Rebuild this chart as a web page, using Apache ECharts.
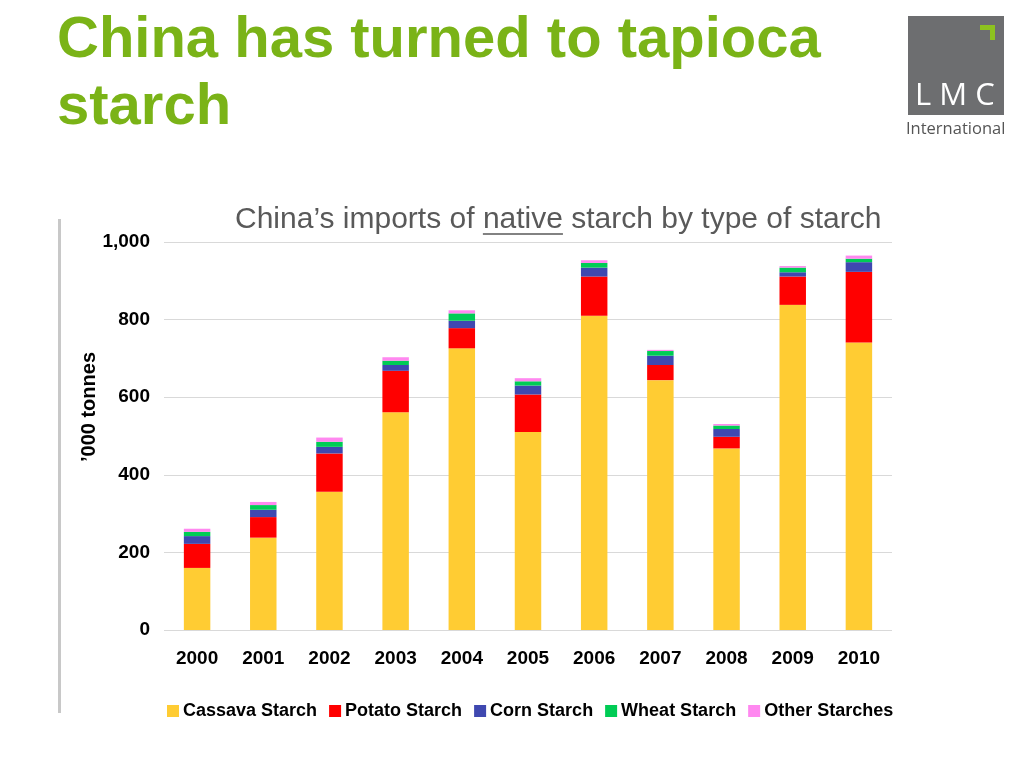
<!DOCTYPE html>
<html>
<head>
<meta charset="utf-8">
<title>China has turned to tapioca starch</title>
<script src="https://cdn.jsdelivr.net/npm/echarts@6/dist/echarts.min.js"></script>
<style>
    html, body { margin: 0; padding: 0; background: #fff; }
    #chart { width: 1024px; height: 768px; }
</style>
</head>
<body>
<div id="chart"></div>
<script>
    // data ('000 tonnes)
    var years = ['2000', '2001', '2002', '2003', '2004', '2005', '2006', '2007', '2008', '2009', '2010'];
    var cassava = [160, 238, 356, 561, 726, 510, 810, 644, 468, 838, 741];
    var potato = [62, 53, 99, 107, 52, 97, 101, 39, 30, 73, 182];
    var corn = [20, 19, 17, 15, 19, 23, 23, 24, 20, 11, 25];
    var wheat = [11, 12, 13, 11, 19, 11, 12, 12, 9, 12, 9];
    var other = [8, 8, 11, 9, 8, 8, 7, 3, 4, 4, 8];
    var yTicks = [0, 200, 400, 600, 800, 1000];

    var seriesNames = ['Cassava Starch', 'Potato Starch', 'Corn Starch', 'Wheat Starch', 'Other Starches'];
    var seriesData = [cassava, potato, corn, wheat, other];
    var colors = ['#FFCC33', '#FF0000', '#3F48B0', '#00CC55', '#FF88F0'];

    var sans = "'Liberation Sans', Arial, sans-serif";

    // subtitle, with "native" underlined
    var subPre = 'China\u2019s imports of ';
    var subWord = 'native';
    var subFont = '30px ' + sans;
    var subLeft = 235;
    var ctx = document.createElement('canvas').getContext('2d');
    ctx.font = subFont;
    var ulStart = subLeft + ctx.measureText(subPre).width;
    var ulEnd = ulStart + ctx.measureText(subWord).width;

    var chart = echarts.init(document.getElementById('chart'));

    var option = {
        animation: false,
        color: colors,
        title: {
            text: subPre + subWord + ' starch by type of starch',
            left: subLeft,
            top: 205,
            padding: 0,
            textStyle: {
                color: '#595959',
                fontSize: 30,
                fontWeight: 'normal',
                fontFamily: sans
            }
        },
        grid: {
            left: 164,
            right: 132,
            top: 242,
            bottom: 138
        },
        legend: {
            data: seriesNames,
            left: 162,
            top: 697,
            itemWidth: 12,
            itemHeight: 12,
            itemGap: 12,
            icon: 'rect',
            textStyle: {
                color: '#000',
                fontSize: 18,
                fontWeight: 'bold',
                fontFamily: sans,
                padding: [0, 0, 0, -1]
            }
        },
        xAxis: {
            type: 'category',
            data: years,
            axisLine: { show: false },
            axisTick: { show: false },
            axisLabel: {
                margin: 19,
                color: '#000',
                fontSize: 19,
                fontWeight: 'bold',
                fontFamily: sans
            }
        },
        yAxis: {
            type: 'value',
            min: yTicks[0],
            max: yTicks[yTicks.length - 1],
            interval: 200,
            axisLine: { show: false },
            axisTick: { show: false },
            splitLine: { lineStyle: { color: '#d9d9d9', width: 1 } },
            axisLabel: {
                margin: 14,
                color: '#000',
                fontSize: 19,
                fontWeight: 'bold',
                fontFamily: sans,
                formatter: function (v) {
                    return v.toLocaleString('en-US');
                }
            }
        },
        series: seriesNames.map(function (name, i) {
            return {
                name: name,
                type: 'bar',
                stack: 'total',
                barWidth: '40%',
                data: seriesData[i]
            };
        }),
        graphic: [
            // headline
            {
                type: 'text',
                left: 57,
                top: 7,
                style: {
                    text: 'China has turned to tapioca\nstarch',
                    fill: '#7AB317',
                    font: 'bold 58px ' + sans,
                    lineHeight: 67
                }
            },
            {
                type: 'line',
                shape: { x1: ulStart, y1: 234, x2: ulEnd, y2: 234 },
                style: { stroke: '#595959', lineWidth: 1.5 }
            },
            // left rule
            {
                type: 'rect',
                shape: { x: 58, y: 219, width: 3, height: 494 },
                style: { fill: '#c8c8c8' }
            },
            // y axis title
            {
                type: 'text',
                x: 89,
                y: 407,
                rotation: Math.PI / 2,
                style: {
                    text: '\u2019000 tonnes',
                    fill: '#000',
                    font: 'bold 20px ' + sans,
                    align: 'center',
                    verticalAlign: 'middle'
                }
            },
            // LMC logo
            {
                type: 'rect',
                shape: { x: 908, y: 16, width: 96, height: 99 },
                style: { fill: '#6D6E70' }
            },
            {
                type: 'polygon',
                shape: { points: [[980, 25], [995, 25], [995, 40], [990, 40], [990, 30], [980, 30]] },
                style: { fill: '#8DC21F' }
            },
            {
                type: 'text',
                left: 915,
                top: 81,
                style: {
                    text: 'L M C',
                    fill: '#fff',
                    font: "31px 'Open Sans', 'Liberation Sans', sans-serif"
                }
            },
            {
                type: 'text',
                left: 906,
                top: 121,
                style: {
                    text: 'International',
                    fill: '#555',
                    font: "16.5px 'Open Sans', 'Liberation Sans', sans-serif"
                }
            }
        ]
    };

    chart.setOption(option);
</script>
</body>
</html>
